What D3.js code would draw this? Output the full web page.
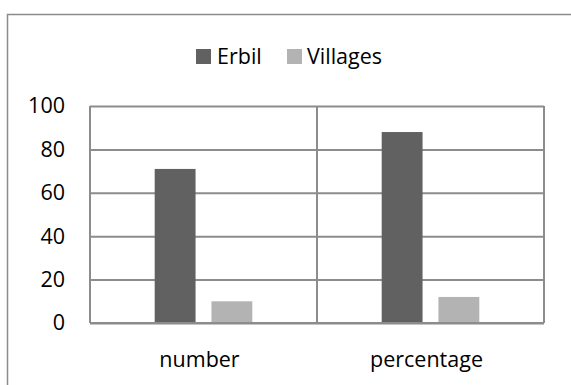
<!DOCTYPE html>
<html>
<head>
<meta charset="utf-8">
<script src="https://cdn.jsdelivr.net/npm/d3@7"></script>
<style>
  html, body { margin: 0; padding: 0; background: #fff; }
  svg { display: block; }
  text { font-family: "Open Sans", Lato, sans-serif; fill: #000; }
</style>
</head>
<body>
<script>
// Chart data
const categories = ["number", "percentage"];
const seriesNames = ["Erbil", "Villages"];
const erbilValues = [71, 88];
const villagesValues = [10, 12];
const yTicks = [0, 20, 40, 60, 80, 100];
const seriesColors = ["#616161", "#b3b3b3"];

const rows = categories.map((c, i) => ({
  category: c,
  values: [
    { series: seriesNames[0], value: erbilValues[i] },
    { series: seriesNames[1], value: villagesValues[i] }
  ]
}));

const W = 571, H = 385;
const plot = { left: 90, right: 544, top: 106, bottom: 323 };
const gridColor = "#8c8c8c";
const FONT = "'Open Sans', Lato, sans-serif";
const FS = 21.5;

const svg = d3.select("body").append("svg").attr("width", W).attr("height", H);

// Outer chart frame (extends past the right and bottom edges)
svg.append("rect")
  .attr("x", 7.5).attr("y", 14.5)
  .attr("width", W + 20).attr("height", H + 20)
  .attr("fill", "none").attr("stroke", "#8c8c8c").attr("stroke-width", 1.5);

const x0 = d3.scaleBand().domain(categories).range([plot.left, plot.right]).padding(0);
const x1 = d3.scaleBand().domain(seriesNames).range([0, x0.bandwidth()])
  .paddingInner(0.28).paddingOuter(1.14);
const y = d3.scaleLinear().domain([0, 100]).range([plot.bottom, plot.top]);
const color = d3.scaleOrdinal().domain(seriesNames).range(seriesColors);

// Horizontal gridlines via the y axis
const yAxis = d3.axisLeft(y).tickValues(yTicks).tickSize(-(plot.right - plot.left)).tickPadding(25);
const gy = svg.append("g").attr("transform", `translate(${plot.left},0)`).call(yAxis);
gy.select(".domain").remove();
gy.selectAll(".tick line").attr("stroke", gridColor).attr("stroke-width", 2);
gy.selectAll(".tick text").attr("font-size", FS).attr("font-family", FONT).attr("fill", "#000");

// Vertical separators at category boundaries
const bounds = [plot.left, ...categories.slice(1).map(c => x0(c)), plot.right];
svg.append("g").selectAll("line").data(bounds).join("line")
  .attr("x1", d => d).attr("x2", d => d)
  .attr("y1", plot.top).attr("y2", plot.bottom)
  .attr("stroke", gridColor).attr("stroke-width", 2);

// Bars
const groups = svg.append("g").selectAll("g").data(rows).join("g")
  .attr("transform", d => `translate(${x0(d.category)},0)`);
groups.selectAll("rect").data(d => d.values).join("rect")
  .attr("x", d => x1(d.series))
  .attr("width", x1.bandwidth())
  .attr("y", d => y(d.value))
  .attr("height", d => y(0) - y(d.value))
  .attr("fill", d => color(d.series));

// Baseline
svg.append("line")
  .attr("x1", plot.left).attr("x2", plot.right)
  .attr("y1", plot.bottom).attr("y2", plot.bottom)
  .attr("stroke", gridColor).attr("stroke-width", 2);

// Category labels
const xAxis = d3.axisBottom(x0).tickSize(0);
const gx = svg.append("g").attr("transform", `translate(-4,${plot.bottom})`).call(xAxis);
gx.select(".domain").remove();
gx.selectAll(".tick text")
  .attr("y", 44).attr("dy", 0)
  .attr("font-size", FS).attr("font-family", FONT).attr("fill", "#000");

// Legend
const legendItems = [
  { name: seriesNames[0], sx: 196, tx: 217 },
  { name: seriesNames[1], sx: 287, tx: 307 }
];
const lg = svg.append("g");
lg.selectAll("rect").data(legendItems).join("rect")
  .attr("x", d => d.sx).attr("y", 49).attr("width", 15).attr("height", 15)
  .attr("fill", d => color(d.name));
lg.selectAll("text").data(legendItems).join("text")
  .attr("x", d => d.tx).attr("y", 64)
  .attr("font-size", FS)
  .text(d => d.name);
</script>
</body>
</html>
